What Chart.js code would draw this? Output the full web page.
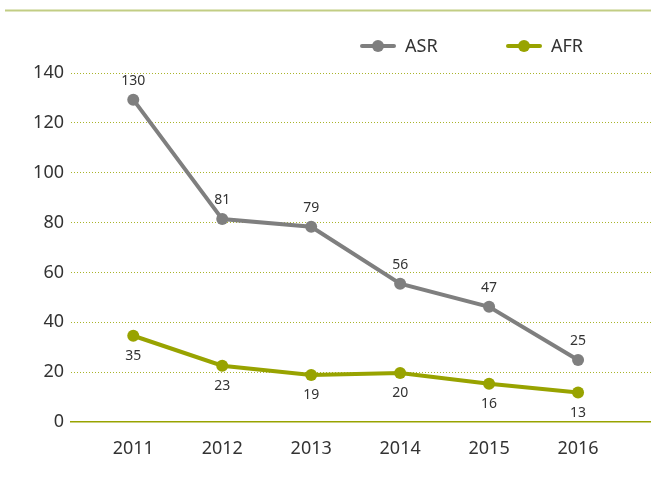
<!DOCTYPE html>
<html>
<head>
<meta charset="utf-8">
<script src="https://cdn.jsdelivr.net/npm/chart.js@4/dist/chart.umd.min.js"></script>
<style>
  html, body { margin: 0; padding: 0; background: #fff; }
  #wrap { position: relative; width: 651px; height: 479px; }
</style>
</head>
<body>
<div id="wrap"><canvas id="chart" width="651" height="479"></canvas></div>
<script>
  // data
  var years = [2011, 2012, 2013, 2014, 2015, 2016];
  var asrValues = [129.3, 81.4, 78.3, 55.5, 46.2, 24.9];
  var asrLabels = ['130', '81', '79', '56', '47', '25'];
  var afrValues = [34.6, 22.6, 18.9, 19.7, 15.3, 11.8];
  var afrLabels = ['35', '23', '19', '20', '16', '13'];
  var yTicks = [0, 20, 40, 60, 80, 100, 120, 140];

  var GRAY = '#7f7f7f';
  var OLIVE = '#98a300';
  var FONT = '"Noto Sans", "Open Sans", sans-serif';

  function points(values) {
    return years.map(function (y, i) { return { x: y, y: values[i] }; });
  }

  // value labels + header rule + legend
  var decorPlugin = {
    id: 'decor',
    beforeDraw: function (chart) {
      var ctx = chart.ctx;
      ctx.save();
      ctx.strokeStyle = '#c2cd84';
      ctx.lineWidth = 2;
      ctx.beginPath();
      ctx.moveTo(5, 10.5);
      ctx.lineTo(651, 10.5);
      ctx.stroke();
      ctx.restore();
    },
    afterDatasetsDraw: function (chart) {
      var ctx = chart.ctx;
      ctx.save();
      ctx.font = '14px ' + FONT;
      ctx.fillStyle = '#333';
      ctx.textAlign = 'center';
      ctx.textBaseline = 'middle';
      chart.data.datasets.forEach(function (ds, di) {
        var meta = chart.getDatasetMeta(di);
        meta.data.forEach(function (pt, i) {
          var dy = ds.labelAbove ? -19 : 20;
          ctx.fillText(ds.valueLabels[i], pt.x, pt.y + dy);
        });
      });

      // legend
      var items = [
        { x: 362, text: 'ASR', color: GRAY },
        { x: 508, text: 'AFR', color: OLIVE }
      ];
      ctx.font = '18px ' + FONT;
      ctx.textAlign = 'left';
      items.forEach(function (it) {
        var y = 46;
        ctx.strokeStyle = it.color;
        ctx.lineWidth = 4;
        ctx.lineCap = 'round';
        ctx.beginPath();
        ctx.moveTo(it.x, y);
        ctx.lineTo(it.x + 32, y);
        ctx.stroke();
        ctx.fillStyle = it.color;
        ctx.beginPath();
        ctx.arc(it.x + 16, y, 6, 0, Math.PI * 2);
        ctx.fill();
        ctx.fillStyle = '#333';
        ctx.fillText(it.text, it.x + 43, y + 1);
      });
      ctx.restore();
    }
  };

  new Chart(document.getElementById('chart'), {
    type: 'line',
    data: {
      datasets: [
        {
          label: 'ASR',
          data: points(asrValues),
          valueLabels: asrLabels,
          labelAbove: true,
          borderColor: GRAY,
          backgroundColor: GRAY,
          borderWidth: 4,
          pointRadius: 6,
          pointBorderWidth: 0,
          pointBackgroundColor: GRAY,
          tension: 0
        },
        {
          label: 'AFR',
          data: points(afrValues),
          valueLabels: afrLabels,
          labelAbove: false,
          borderColor: OLIVE,
          backgroundColor: OLIVE,
          borderWidth: 4,
          pointRadius: 6,
          pointBorderWidth: 0,
          pointBackgroundColor: OLIVE,
          tension: 0
        }
      ]
    },
    options: {
      responsive: false,
      animation: false,
      layout: { autoPadding: false, padding: { top: 73, right: 0, bottom: 0, left: 0 } },
      plugins: {
        legend: { display: false },
        tooltip: { enabled: false }
      },
      scales: {
        x: {
          type: 'linear',
          min: 2010.3,
          max: 2016.82,
          afterFit: function (scale) {
            scale.height = 57;
            scale.paddingLeft = 0;
            scale.paddingRight = 0;
          },
          afterBuildTicks: function (scale) {
            scale.ticks = years.map(function (y) { return { value: y }; });
          },
          grid: { display: false, drawTicks: false },
          border: { display: true, color: OLIVE, width: 1.5 },
          ticks: {
            padding: 16,
            color: '#333',
            font: { family: FONT, size: 18 },
            callback: function (v) { return String(v); }
          }
        },
        y: {
          min: 0,
          max: 140,
          afterFit: function (scale) { scale.width = 71; },
          afterBuildTicks: function (scale) {
            scale.ticks = yTicks.map(function (v) { return { value: v }; });
          },
          grid: {
            drawTicks: false,
            color: function (c) { return c.tick && c.tick.value === 0 ? 'rgba(0,0,0,0)' : '#a9b42a'; },
            lineWidth: 1
          },
          // border.dash styles the gridlines as dots
          border: { display: false, dash: [1, 2] },
          ticks: {
            padding: 7,
            color: '#333',
            font: { family: FONT, size: 18 }
          }
        }
      }
    },
    plugins: [decorPlugin]
  });
</script>
</body>
</html>
